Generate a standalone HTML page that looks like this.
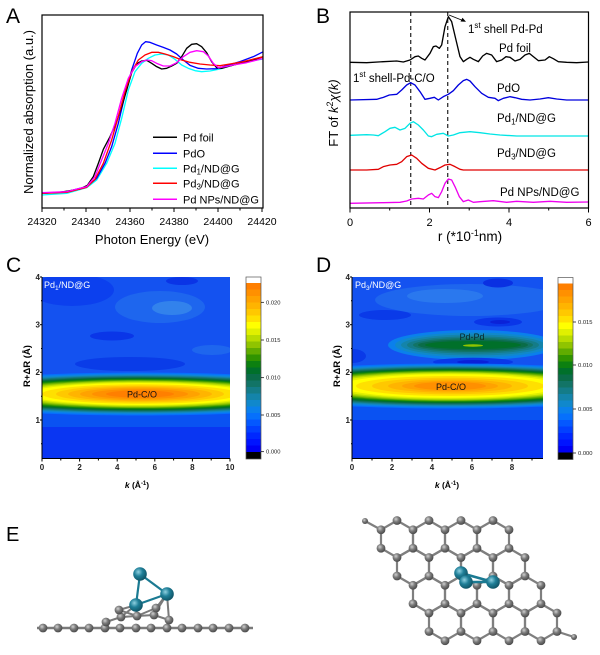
<!DOCTYPE html>
<html><head><meta charset="utf-8"><style>
html,body{margin:0;padding:0;background:#fff;}
svg{display:block;font-family:"Liberation Sans",Arial,sans-serif;}
</style></head><body>
<svg width="600" height="655" viewBox="0 0 600 655" xmlns="http://www.w3.org/2000/svg">
<defs>
<radialGradient id="cg" cx="0.38" cy="0.35" r="0.7"><stop offset="0" stop-color="#d0d0d0"/><stop offset="0.45" stop-color="#7a7a7a"/><stop offset="1" stop-color="#444"/></radialGradient>
<radialGradient id="pg" cx="0.38" cy="0.35" r="0.7"><stop offset="0" stop-color="#8fd0e0"/><stop offset="0.45" stop-color="#1f7f98"/><stop offset="1" stop-color="#0e4f60"/></radialGradient>
<circle id="c" r="4.4" fill="url(#cg)"/>
<circle id="p" r="6.8" fill="url(#pg)"/>
<clipPath id="clipC"><rect x="42" y="277" width="188" height="181"/></clipPath>
<clipPath id="clipD"><rect x="352" y="277" width="191" height="181"/></clipPath>
<g id="cbar">
<rect x="0" y="277" width="15" height="6.5" fill="#fff"/>
<rect x="0" y="283" width="15" height="6.6" fill="#ff7f00"/>
<rect x="0" y="289.5" width="15" height="6.6" fill="#ff9000"/>
<rect x="0" y="296" width="15" height="6.6" fill="#ffa200"/>
<rect x="0" y="302.5" width="15" height="6.6" fill="#ffb400"/>
<rect x="0" y="309" width="15" height="6.6" fill="#ffc800"/>
<rect x="0" y="315.5" width="15" height="6.6" fill="#ffe000"/>
<rect x="0" y="322" width="15" height="6.6" fill="#ffff00"/>
<rect x="0" y="328.5" width="15" height="6.6" fill="#e0f000"/>
<rect x="0" y="335" width="15" height="6.6" fill="#b8dc00"/>
<rect x="0" y="341.5" width="15" height="6.6" fill="#90c400"/>
<rect x="0" y="348" width="15" height="6.6" fill="#60ac00"/>
<rect x="0" y="354.5" width="15" height="6.6" fill="#309400"/>
<rect x="0" y="361" width="15" height="6.6" fill="#0c8010"/>
<rect x="0" y="367.5" width="15" height="6.6" fill="#00702a"/>
<rect x="0" y="374" width="15" height="6.6" fill="#0a6c48"/>
<rect x="0" y="380.5" width="15" height="6.6" fill="#127466"/>
<rect x="0" y="387" width="15" height="6.6" fill="#147c88"/>
<rect x="0" y="393.5" width="15" height="6.6" fill="#1484aa"/>
<rect x="0" y="400" width="15" height="6.6" fill="#1088cc"/>
<rect x="0" y="406.5" width="15" height="6.6" fill="#0a80ec"/>
<rect x="0" y="413" width="15" height="6.6" fill="#0670fc"/>
<rect x="0" y="419.5" width="15" height="6.6" fill="#0458ff"/>
<rect x="0" y="426" width="15" height="6.6" fill="#0240ff"/>
<rect x="0" y="432.5" width="15" height="6.6" fill="#0028ff"/>
<rect x="0" y="439" width="15" height="6.6" fill="#0014ff"/>
<rect x="0" y="445.5" width="15" height="6.6" fill="#0000f4"/>
<rect x="0" y="452" width="15" height="7" fill="#000"/>
<rect x="0" y="277" width="15" height="182" fill="none" stroke="#555" stroke-width="0.7"/>
</g>
</defs>

<!-- ============ PANEL A ============ -->
<text x="6" y="23" font-size="21">A</text>
<g transform="scale(0.33333)" fill="none" stroke-width="4" stroke-linejoin="round">
<polyline stroke="#00ffff" points="126,585 200,580 260,563 290,540 320,490 345,430 365,355 385,270 405,215 425,190 445,175 465,165 485,162 505,165 525,178 545,195 565,205 585,212 605,215 630,213 660,207 700,195 740,185 790,177"/>
<polyline stroke="#0000ff" points="126,580 200,575 260,560 290,535 315,490 335,440 355,370 375,285 395,210 412,160 425,135 437,125 450,127 470,135 490,142 510,150 530,162 550,180 570,196 595,205 620,207 650,206 680,197 720,185 760,170 790,155"/>
<polyline stroke="#000" points="126,580 180,577 240,567 262,556 280,530 295,490 310,448 330,410 350,365 365,320 380,270 395,218 410,192 425,183 440,181 455,190 470,200 485,207 500,205 515,198 530,190 545,170 560,145 575,133 590,131 605,140 620,158 635,185 650,203 665,205 690,198 720,190 760,180 790,170"/>
<polyline stroke="#ff0000" points="126,580 200,577 260,562 285,538 310,490 335,420 355,350 375,275 395,215 415,180 435,165 455,157 475,157 495,162 520,170 545,180 570,187 600,192 630,195 660,197 690,192 730,185 790,170"/>
<polyline stroke="#ff00ff" points="126,578 200,575 260,560 285,530 305,480 325,430 345,370 365,295 385,235 405,200 425,185 440,180 455,182 470,190 490,198 510,198 530,188 550,170 570,157 590,152 610,155 625,168 640,190 655,203 675,200 700,195 740,188 790,175"/>
</g>
<rect x="42" y="15" width="221" height="193" fill="none" stroke="#000" stroke-width="1.2"/>
<g stroke="#000" stroke-width="1">
<line x1="42" y1="208" x2="42" y2="212"/><line x1="86" y1="208" x2="86" y2="212"/><line x1="130" y1="208" x2="130" y2="212"/><line x1="174" y1="208" x2="174" y2="212"/><line x1="218" y1="208" x2="218" y2="212"/><line x1="262" y1="208" x2="262" y2="212"/>
<line x1="64" y1="208" x2="64" y2="210.5"/><line x1="108" y1="208" x2="108" y2="210.5"/><line x1="152" y1="208" x2="152" y2="210.5"/><line x1="196" y1="208" x2="196" y2="210.5"/><line x1="240" y1="208" x2="240" y2="210.5"/>
</g>
<g font-size="10.5" text-anchor="middle">
<text x="42" y="225">24320</text><text x="86" y="225">24340</text><text x="130" y="225">24360</text><text x="174" y="225">24380</text><text x="218" y="225">24400</text><text x="262" y="225">24420</text>
</g>
<text x="152" y="244" font-size="13" text-anchor="middle">Photon Energy (eV)</text>
<text transform="translate(33,112) rotate(-90)" font-size="13" text-anchor="middle">Normalized absorption (a.u.)</text>
<g stroke-width="1.5">
<line x1="153" y1="137.3" x2="177" y2="137.3" stroke="#000"/>
<line x1="153" y1="153.3" x2="177" y2="153.3" stroke="#0000ff"/>
<line x1="153" y1="168.3" x2="177" y2="168.3" stroke="#00ffff"/>
<line x1="153" y1="183.3" x2="177" y2="183.3" stroke="#ff0000"/>
<line x1="153" y1="199.3" x2="177" y2="199.3" stroke="#ff00ff"/>
</g>
<g font-size="11">
<text x="183" y="141.3">Pd foil</text>
<text x="183" y="157.3">PdO</text>
<text x="183" y="172.3">Pd<tspan font-size="8" dy="2">1</tspan><tspan dy="-2">/ND@G</tspan></text>
<text x="183" y="187.3">Pd<tspan font-size="8" dy="2">3</tspan><tspan dy="-2">/ND@G</tspan></text>
<text x="183" y="203.3">Pd NPs/ND@G</text>
</g>

<!-- ============ PANEL B ============ -->
<text x="316" y="23" font-size="21">B</text>
<g stroke="#333" stroke-width="1.3" stroke-dasharray="4,3">
<line x1="410.7" y1="12" x2="410.7" y2="208"/>
<line x1="447.7" y1="12" x2="447.7" y2="208"/>
</g>
<g transform="translate(300,0) scale(0.33333)" fill="none" stroke-width="4" stroke-linejoin="round">
<polyline stroke="#000" points="150,187 200,188 250,185 290,183 310,186 330,180 345,170 355,168 365,175 375,180 390,160 400,140 408,138 418,145 425,135 435,80 445,50 455,65 468,120 480,170 490,185 500,178 510,172 520,178 535,185 548,168 560,160 575,165 590,185 605,180 618,170 630,172 645,183 660,178 675,165 688,160 700,170 715,182 735,180 748,170 760,176 775,185 800,187 830,188 865,186"/>
<polyline stroke="#0000dd" points="150,300 230,298 250,292 268,285 290,283 305,270 320,255 332,248 345,255 360,275 375,298 390,295 403,292 415,300 430,290 445,283 460,272 475,255 490,242 500,238 510,243 525,260 545,280 565,292 585,295 595,302 610,295 630,290 645,293 665,298 690,300 720,297 745,293 770,297 800,300 865,300"/>
<polyline stroke="#00e5e5" points="150,406 200,404 220,405 235,407 255,395 270,385 285,382 300,390 315,385 330,370 340,365 355,375 370,390 385,408 395,410 410,403 430,400 445,408 460,405 480,398 510,395 540,398 570,402 600,405 650,408 700,408 760,408 865,408"/>
<polyline stroke="#e00000" points="150,510 200,510 235,508 250,500 270,495 290,493 305,485 320,470 335,465 350,475 365,490 385,505 405,510 420,503 435,495 450,493 465,500 480,508 490,510 520,510 865,510"/>
<polyline stroke="#ee00ee" points="150,610 250,608 300,607 320,603 335,597 355,595 370,597 385,585 395,580 405,590 415,593 425,575 435,550 445,537 455,540 465,560 478,590 490,605 505,600 520,607 540,605 580,602 620,607 650,604 700,607 750,604 800,607 865,606"/>
</g>
<rect x="350" y="12" width="238.5" height="196" fill="none" stroke="#000" stroke-width="1.2"/>
<g stroke="#000" stroke-width="1">
<line x1="350" y1="208" x2="350" y2="212.5"/><line x1="429.5" y1="208" x2="429.5" y2="212.5"/><line x1="509" y1="208" x2="509" y2="212.5"/><line x1="588.5" y1="208" x2="588.5" y2="212.5"/>
<line x1="389.7" y1="208" x2="389.7" y2="210.5"/><line x1="469.2" y1="208" x2="469.2" y2="210.5"/><line x1="548.7" y1="208" x2="548.7" y2="210.5"/>
</g>
<g font-size="11" text-anchor="middle">
<text x="350" y="226">0</text><text x="429.5" y="226">2</text><text x="509" y="226">4</text><text x="588.5" y="226">6</text>
</g>
<text x="470" y="241" font-size="13.5" text-anchor="middle">r (*10<tspan font-size="9" dy="-5">-1</tspan><tspan dy="5">nm)</tspan></text>
<text transform="translate(338,113) rotate(-90)" font-size="13" text-anchor="middle">FT of <tspan font-style="italic">k</tspan><tspan font-size="9" dy="-5">2</tspan><tspan dy="5" font-style="italic">χ(k)</tspan></text>
<line x1="449" y1="15" x2="464" y2="21" stroke="#000" stroke-width="0.9"/>
<polygon points="466,21.8 460.5,21.5 462.5,17.8" fill="#000"/>
<g font-size="11.5">
<text x="468" y="33">1<tspan font-size="8" dy="-5">st</tspan><tspan dy="5"> shell Pd-Pd</tspan></text>
<text x="499" y="52">Pd foil</text>
<text x="497" y="92">PdO</text>
<text x="497" y="122">Pd<tspan font-size="8" dy="2.5">1</tspan><tspan dy="-2.5">/ND@G</tspan></text>
<text x="497" y="157">Pd<tspan font-size="8" dy="2.5">3</tspan><tspan dy="-2.5">/ND@G</tspan></text>
<text x="500" y="196">Pd NPs/ND@G</text>
<text x="353" y="82">1<tspan font-size="8" dy="-5">st</tspan><tspan dy="5"> shell-Pd-C/O</tspan></text>
</g>

<!-- ============ PANEL C ============ -->
<text x="6" y="272" font-size="21">C</text>
<g clip-path="url(#clipC)">
<rect x="42" y="277" width="188" height="181" fill="#0a36f2"/>
<rect x="42" y="277" width="188" height="100" fill="#1452f0"/>
<ellipse cx="72" cy="290" rx="42" ry="16" fill="#0c40ee"/>
<ellipse cx="160" cy="307" rx="45" ry="16" fill="#1e66ee"/>
<ellipse cx="172" cy="308" rx="20" ry="7" fill="#3282ec"/>
<ellipse cx="182" cy="281" rx="16" ry="4" fill="#0a34e6"/>
<ellipse cx="112" cy="336" rx="22" ry="4.5" fill="#0a36e8"/>
<ellipse cx="212" cy="350" rx="20" ry="5" fill="#1e66ee"/>
<ellipse cx="130" cy="364" rx="55" ry="7" fill="#0a3ce8"/>
<rect x="42" y="405" width="188" height="22" fill="#0a52f2"/>
<ellipse cx="140" cy="394" rx="230" ry="21.5" fill="#0670fc"/>
<ellipse cx="140" cy="394" rx="220" ry="20.5" fill="#0a80ec"/>
<ellipse cx="140" cy="394" rx="210" ry="19.5" fill="#1088cc"/>
<ellipse cx="140" cy="394" rx="200" ry="18.7" fill="#1484aa"/>
<ellipse cx="140" cy="394" rx="192" ry="18" fill="#147c88"/>
<ellipse cx="140" cy="394" rx="184" ry="17.3" fill="#127466"/>
<ellipse cx="140" cy="394" rx="176" ry="16.6" fill="#0a6c48"/>
<ellipse cx="140" cy="394" rx="168" ry="16" fill="#00702a"/>
<ellipse cx="140" cy="394" rx="160" ry="15.3" fill="#0c8010"/>
<ellipse cx="140" cy="394" rx="152" ry="14.6" fill="#309400"/>
<ellipse cx="140" cy="394" rx="144" ry="14" fill="#60ac00"/>
<ellipse cx="140" cy="394" rx="136" ry="13.3" fill="#90c400"/>
<ellipse cx="140" cy="394" rx="128" ry="12.6" fill="#b8dc00"/>
<ellipse cx="140" cy="394" rx="120" ry="11.8" fill="#e0f000"/>
<ellipse cx="140" cy="394" rx="112" ry="11" fill="#ffff00"/>
<ellipse cx="140" cy="394" rx="98" ry="9.7" fill="#ffe000"/>
<ellipse cx="140" cy="394" rx="84" ry="8.4" fill="#ffc800"/>
<ellipse cx="140" cy="394" rx="72" ry="7.2" fill="#ffb400"/>
<ellipse cx="140" cy="394" rx="60" ry="6.2" fill="#ffa200"/>
<ellipse cx="140" cy="394" rx="48" ry="5" fill="#ff9000"/>
<ellipse cx="140" cy="394" rx="34" ry="3.6" fill="#ff7f00"/>
</g>
<g stroke="#000" stroke-width="1">
<line x1="42" y1="277" x2="42" y2="458.5"/><line x1="42" y1="458.5" x2="230" y2="458.5"/>
<line x1="40" y1="277" x2="42" y2="277"/><line x1="40" y1="324.7" x2="42" y2="324.7"/><line x1="40" y1="372.3" x2="42" y2="372.3"/><line x1="40" y1="420" x2="42" y2="420"/>
<line x1="41" y1="300.8" x2="42" y2="300.8"/><line x1="41" y1="348.5" x2="42" y2="348.5"/><line x1="41" y1="396.2" x2="42" y2="396.2"/><line x1="41" y1="443.8" x2="42" y2="443.8"/>
<line x1="42" y1="458.5" x2="42" y2="461.5"/><line x1="79.6" y1="458.5" x2="79.6" y2="461.5"/><line x1="117.2" y1="458.5" x2="117.2" y2="461.5"/><line x1="154.8" y1="458.5" x2="154.8" y2="461.5"/><line x1="192.4" y1="458.5" x2="192.4" y2="461.5"/><line x1="230" y1="458.5" x2="230" y2="461.5"/>
<line x1="60.8" y1="458.5" x2="60.8" y2="460.5"/><line x1="98.4" y1="458.5" x2="98.4" y2="460.5"/><line x1="136" y1="458.5" x2="136" y2="460.5"/><line x1="173.6" y1="458.5" x2="173.6" y2="460.5"/><line x1="211.2" y1="458.5" x2="211.2" y2="460.5"/>
</g>
<g font-size="8" font-weight="bold" fill="#222">
<g text-anchor="end"><text x="40" y="280">4</text><text x="40" y="327.5">3</text><text x="40" y="375">2</text><text x="40" y="423">1</text></g>
<g text-anchor="middle"><text x="42" y="470">0</text><text x="79.6" y="470">2</text><text x="117.2" y="470">4</text><text x="154.8" y="470">6</text><text x="192.4" y="470">8</text><text x="230" y="470">10</text></g>
</g>
<text x="137" y="488" font-size="8.5" font-weight="bold" text-anchor="middle"><tspan font-style="italic">k</tspan> (Å<tspan font-size="6" dy="-3">-1</tspan><tspan dy="3">)</tspan></text>
<text transform="translate(30,366) rotate(-90)" font-size="9.5" font-weight="bold" text-anchor="middle">R+ΔR (Å)</text>
<text x="44" y="288" font-size="9" fill="#fff">Pd<tspan font-size="6.5" dy="2">1</tspan><tspan dy="-2">/ND@G</tspan></text>
<text x="142" y="397.5" font-size="9" text-anchor="middle" fill="#111">Pd-C/O</text>
<use href="#cbar" x="246" y="0"/>
<g stroke="#000" stroke-width="0.7"><line x1="261" y1="302.3" x2="264" y2="302.3"/><line x1="261" y1="340" x2="264" y2="340"/><line x1="261" y1="377.7" x2="264" y2="377.7"/><line x1="261" y1="415" x2="264" y2="415"/><line x1="261" y1="451.7" x2="264" y2="451.7"/></g>
<g font-size="5.8" fill="#222"><text x="266" y="304.3">0.020</text><text x="266" y="342">0.015</text><text x="266" y="379.7">0.010</text><text x="266" y="417">0.005</text><text x="266" y="453.7">0.000</text></g>

<!-- ============ PANEL D ============ -->
<text x="316" y="272" font-size="21">D</text>
<g clip-path="url(#clipD)">
<rect x="352" y="277" width="191" height="181" fill="#0a36f2"/>
<rect x="352" y="277" width="191" height="98" fill="#1452f0"/>
<ellipse cx="470" cy="300" rx="95" ry="16" fill="#1e66ee"/>
<ellipse cx="445" cy="296" rx="38" ry="7" fill="#2a78ee"/>
<ellipse cx="498" cy="283" rx="15" ry="4.5" fill="#0a30e2"/>
<ellipse cx="385" cy="315" rx="26" ry="5" fill="#0a3ae8"/>
<ellipse cx="498" cy="322" rx="24" ry="4.5" fill="#0a36e8"/>
<ellipse cx="500" cy="322" rx="10" ry="2" fill="#0a22d8"/>
<ellipse cx="352" cy="356" rx="14" ry="7" fill="#0a3ae8"/>
<rect x="352" y="402" width="191" height="18" fill="#0a52f2"/>
<ellipse cx="473" cy="345" rx="85" ry="15" fill="#0a80ec"/>
<ellipse cx="473" cy="345" rx="78" ry="12.5" fill="#1088cc"/>
<ellipse cx="473" cy="345" rx="72" ry="10.5" fill="#1484aa"/>
<ellipse cx="473" cy="345" rx="66" ry="8.7" fill="#147c88"/>
<ellipse cx="473" cy="345" rx="60" ry="7" fill="#127466"/>
<ellipse cx="473" cy="345" rx="55" ry="5.5" fill="#0a6c48"/>
<ellipse cx="473" cy="345" rx="48" ry="4" fill="#00702a"/>
<ellipse cx="473" cy="345.5" rx="10" ry="1.3" fill="#90c400"/>
<ellipse cx="473" cy="362" rx="40" ry="4.2" fill="#0a38e8"/>
<ellipse cx="473" cy="362" rx="16" ry="2" fill="#0a20d8"/>
<ellipse cx="450" cy="386" rx="230" ry="22.5" fill="#0670fc"/>
<ellipse cx="450" cy="386" rx="220" ry="21.5" fill="#0a80ec"/>
<ellipse cx="450" cy="386" rx="210" ry="20.5" fill="#1088cc"/>
<ellipse cx="450" cy="386" rx="200" ry="19.7" fill="#1484aa"/>
<ellipse cx="450" cy="386" rx="192" ry="19" fill="#147c88"/>
<ellipse cx="450" cy="386" rx="184" ry="18.3" fill="#127466"/>
<ellipse cx="450" cy="386" rx="176" ry="17.6" fill="#0a6c48"/>
<ellipse cx="450" cy="386" rx="168" ry="17" fill="#00702a"/>
<ellipse cx="450" cy="386" rx="160" ry="16.3" fill="#0c8010"/>
<ellipse cx="450" cy="386" rx="152" ry="15.6" fill="#309400"/>
<ellipse cx="450" cy="386" rx="144" ry="15" fill="#60ac00"/>
<ellipse cx="450" cy="386" rx="136" ry="14.3" fill="#90c400"/>
<ellipse cx="450" cy="386" rx="128" ry="13.6" fill="#b8dc00"/>
<ellipse cx="450" cy="386" rx="120" ry="12.8" fill="#e0f000"/>
<ellipse cx="450" cy="386" rx="110" ry="11.8" fill="#ffff00"/>
<ellipse cx="450" cy="386" rx="94" ry="10" fill="#ffe000"/>
<ellipse cx="450" cy="386" rx="78" ry="8.3" fill="#ffc800"/>
<ellipse cx="450" cy="386" rx="62" ry="6.6" fill="#ffb400"/>
<ellipse cx="450" cy="386" rx="48" ry="5.2" fill="#ffa200"/>
<ellipse cx="450" cy="386" rx="36" ry="4" fill="#ff9000"/>
</g>
<g stroke="#000" stroke-width="1">
<line x1="352" y1="277" x2="352" y2="458.5"/><line x1="352" y1="458.5" x2="543" y2="458.5"/>
<line x1="350" y1="277" x2="352" y2="277"/><line x1="350" y1="324.7" x2="352" y2="324.7"/><line x1="350" y1="372.3" x2="352" y2="372.3"/><line x1="350" y1="420" x2="352" y2="420"/>
<line x1="351" y1="300.8" x2="352" y2="300.8"/><line x1="351" y1="348.5" x2="352" y2="348.5"/><line x1="351" y1="396.2" x2="352" y2="396.2"/><line x1="351" y1="443.8" x2="352" y2="443.8"/>
<line x1="352" y1="458.5" x2="352" y2="461.5"/><line x1="392" y1="458.5" x2="392" y2="461.5"/><line x1="432" y1="458.5" x2="432" y2="461.5"/><line x1="472" y1="458.5" x2="472" y2="461.5"/><line x1="512" y1="458.5" x2="512" y2="461.5"/>
<line x1="372" y1="458.5" x2="372" y2="460.5"/><line x1="412" y1="458.5" x2="412" y2="460.5"/><line x1="452" y1="458.5" x2="452" y2="460.5"/><line x1="492" y1="458.5" x2="492" y2="460.5"/><line x1="532" y1="458.5" x2="532" y2="460.5"/>
</g>
<g font-size="8" font-weight="bold" fill="#222">
<g text-anchor="end"><text x="350" y="280">4</text><text x="350" y="327.5">3</text><text x="350" y="375">2</text><text x="350" y="423">1</text></g>
<g text-anchor="middle"><text x="352" y="470">0</text><text x="392" y="470">2</text><text x="432" y="470">4</text><text x="472" y="470">6</text><text x="512" y="470">8</text></g>
</g>
<text x="447" y="488" font-size="8.5" font-weight="bold" text-anchor="middle"><tspan font-style="italic">k</tspan> (Å<tspan font-size="6" dy="-3">-1</tspan><tspan dy="3">)</tspan></text>
<text transform="translate(340,366) rotate(-90)" font-size="9.5" font-weight="bold" text-anchor="middle">R+ΔR (Å)</text>
<text x="355" y="288" font-size="9" fill="#fff">Pd<tspan font-size="6.5" dy="2">3</tspan><tspan dy="-2">/ND@G</tspan></text>
<text x="472" y="340" font-size="9" text-anchor="middle" fill="#0a2a2a">Pd-Pd</text>
<text x="451" y="390" font-size="9" text-anchor="middle" fill="#111">Pd-C/O</text>
<use href="#cbar" x="558" y="0.5"/>
<g stroke="#000" stroke-width="0.7"><line x1="573" y1="322" x2="576" y2="322"/><line x1="573" y1="365" x2="576" y2="365"/><line x1="573" y1="409" x2="576" y2="409"/><line x1="573" y1="453" x2="576" y2="453"/></g>
<g font-size="5.8" fill="#222"><text x="578" y="324">0.015</text><text x="578" y="367">0.010</text><text x="578" y="411">0.005</text><text x="578" y="455">0.000</text></g>

<!-- ============ PANEL E ============ -->
<text x="6" y="541" font-size="20">E</text>
<!-- side view -->
<line x1="37" y1="628" x2="253" y2="628" stroke="#7a7a7a" stroke-width="2.6"/>
<g stroke="#7a7a7a" stroke-width="2" fill="none">
<polyline points="106,622 121,617 137,616 154,615 169,620"/>
<line x1="156" y1="608" x2="137" y2="616"/>
<line x1="119" y1="610" x2="137" y2="616"/>
<line x1="136" y1="605" x2="121" y2="617"/>
<line x1="136" y1="605" x2="137" y2="616"/>
<line x1="136" y1="605" x2="119" y2="610"/>
<line x1="167" y1="594" x2="156" y2="608"/>
<line x1="167" y1="594" x2="169" y2="620"/>
<line x1="167" y1="594" x2="154" y2="615"/>
</g>
<g>
<use href="#c" x="43" y="628"/><use href="#c" x="58" y="628"/><use href="#c" x="74" y="628"/><use href="#c" x="89" y="628"/><use href="#c" x="105" y="628"/><use href="#c" x="120" y="628"/><use href="#c" x="136" y="628"/><use href="#c" x="151" y="628"/><use href="#c" x="167" y="628"/><use href="#c" x="182" y="628"/><use href="#c" x="198" y="628"/><use href="#c" x="213" y="628"/><use href="#c" x="229" y="628"/><use href="#c" x="245" y="628"/>
<use href="#c" x="106" y="622"/><use href="#c" x="121" y="617"/><use href="#c" x="137" y="616"/><use href="#c" x="154" y="615"/><use href="#c" x="169" y="620"/><use href="#c" x="156" y="608"/><use href="#c" x="119" y="610"/>
</g>
<g stroke="#1b7a92" stroke-width="2.2">
<line x1="140" y1="574" x2="167" y2="594"/>
<line x1="140" y1="574" x2="136" y2="605"/>
<line x1="136" y1="605" x2="167" y2="594"/>
</g>
<use href="#p" x="140" y="574"/><use href="#p" x="167" y="594"/><use href="#p" x="136" y="605"/>

<!-- top view graphene -->
<g fill="none" stroke="#7f7f7f" stroke-width="2.2" stroke-linejoin="round">
<line x1="365" y1="521" x2="381" y2="529.75"/>
<line x1="574" y1="637" x2="557" y2="631.5"/>
<polygon points="397,520.5 413,529.75 413,548.25 397,557.5 381,548.25 381,529.75"/>
<polygon points="429,520.5 445,529.75 445,548.25 429,557.5 413,548.25 413,529.75"/>
<polygon points="461,520.5 477,529.75 477,548.25 461,557.5 445,548.25 445,529.75"/>
<polygon points="493,520.5 509,529.75 509,548.25 493,557.5 477,548.25 477,529.75"/>
<polygon points="413,548.25 429,557.5 429,576 413,585.25 397,576 397,557.5"/>
<polygon points="445,548.25 461,557.5 461,576 445,585.25 429,576 429,557.5"/>
<polygon points="477,548.25 493,557.5 493,576 477,585.25 461,576 461,557.5"/>
<polygon points="509,548.25 525,557.5 525,576 509,585.25 493,576 493,557.5"/>
<polygon points="429,576 445,585.25 445,603.75 429,613 413,603.75 413,585.25"/>
<polygon points="461,576 477,585.25 477,603.75 461,613 445,603.75 445,585.25"/>
<polygon points="493,576 509,585.25 509,603.75 493,613 477,603.75 477,585.25"/>
<polygon points="525,576 541,585.25 541,603.75 525,613 509,603.75 509,585.25"/>
<polygon points="445,603.75 461,613 461,631.5 445,640.75 429,631.5 429,613"/>
<polygon points="477,603.75 493,613 493,631.5 477,640.75 461,631.5 461,613"/>
<polygon points="509,603.75 525,613 525,631.5 509,640.75 493,631.5 493,613"/>
<polygon points="541,603.75 557,613 557,631.5 541,640.75 525,631.5 525,613"/>
</g>
<circle cx="365" cy="521" r="3" fill="url(#cg)"/>
<circle cx="574" cy="637" r="3" fill="url(#cg)"/>
<g>
<use href="#c" x="397" y="520.5"/><use href="#c" x="429" y="520.5"/><use href="#c" x="461" y="520.5"/><use href="#c" x="493" y="520.5"/>
<use href="#c" x="381" y="529.75"/><use href="#c" x="413" y="529.75"/><use href="#c" x="445" y="529.75"/><use href="#c" x="477" y="529.75"/><use href="#c" x="509" y="529.75"/>
<use href="#c" x="381" y="548.25"/><use href="#c" x="413" y="548.25"/><use href="#c" x="445" y="548.25"/><use href="#c" x="477" y="548.25"/><use href="#c" x="509" y="548.25"/>
<use href="#c" x="397" y="557.5"/><use href="#c" x="429" y="557.5"/><use href="#c" x="461" y="557.5"/><use href="#c" x="493" y="557.5"/><use href="#c" x="525" y="557.5"/>
<use href="#c" x="397" y="576"/><use href="#c" x="429" y="576"/><use href="#c" x="461" y="576"/><use href="#c" x="493" y="576"/><use href="#c" x="525" y="576"/>
<use href="#c" x="413" y="585.25"/><use href="#c" x="445" y="585.25"/><use href="#c" x="477" y="585.25"/><use href="#c" x="509" y="585.25"/><use href="#c" x="541" y="585.25"/>
<use href="#c" x="413" y="603.75"/><use href="#c" x="445" y="603.75"/><use href="#c" x="477" y="603.75"/><use href="#c" x="509" y="603.75"/><use href="#c" x="541" y="603.75"/>
<use href="#c" x="429" y="613"/><use href="#c" x="461" y="613"/><use href="#c" x="493" y="613"/><use href="#c" x="525" y="613"/><use href="#c" x="557" y="613"/>
<use href="#c" x="429" y="631.5"/><use href="#c" x="461" y="631.5"/><use href="#c" x="493" y="631.5"/><use href="#c" x="525" y="631.5"/><use href="#c" x="557" y="631.5"/>
<use href="#c" x="445" y="640.75"/><use href="#c" x="477" y="640.75"/><use href="#c" x="509" y="640.75"/><use href="#c" x="541" y="640.75"/>
</g>
<g stroke="#1b7a92" stroke-width="2.6">
<line x1="461" y1="573" x2="493" y2="582"/>
<line x1="466" y1="582" x2="493" y2="582"/>
</g>
<use href="#p" x="461" y="573"/><use href="#p" x="466" y="582"/><use href="#p" x="493" y="582"/>
</svg>
</body></html>
